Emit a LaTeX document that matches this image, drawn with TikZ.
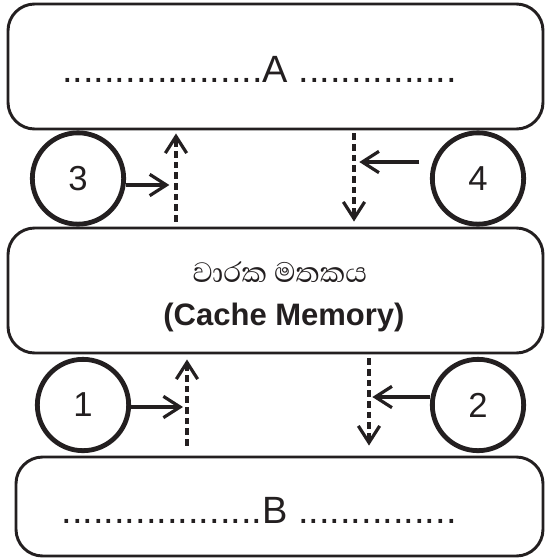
\documentclass[tikz,border=0pt]{standalone}
\usepackage{fontspec}
\setmainfont{Liberation Sans}
\newfontfamily\sinhalafont[Script=Sinhala]{Abhaya Libre}
\usetikzlibrary{arrows.meta}
\definecolor{ink}{HTML}{231F20}
\begin{document}
\begin{tikzpicture}[x=0.75pt,y=-0.75pt,ink,
  box node/.style={rectangle,draw,rounded corners=20pt,line width=2.2pt,inner sep=0pt},
  num node/.style={circle,draw,line width=3.6pt,minimum size=68.5pt,inner sep=0pt,font=\fontsize{26}{30}\selectfont},
  big text/.style={anchor=base,font=\fontsize{28.5}{34}\selectfont},
  flow/.style={line width=2.4pt,-{Straight Barb[length=12.5pt,width=16pt]}},
  dash flow/.style={flow,dash pattern=on 5pt off 3pt}]

  \useasboundingbox (0,0) rectangle (544,558);

  \node[box node,minimum width=401.25pt,minimum height=93.75pt] (A) at (275.5,66.5) {};
  \node[box node,minimum width=401.25pt,minimum height=93.75pt] (cache) at (275.5,290.5) {};
  \node[box node,minimum width=395.25pt,minimum height=74.25pt] (B) at (279.5,506.5) {};

  \node[big text] (Atext) at (259.5,82) {...................A ...............};
  \node[big text] (Btext) at (259,523) {...................B ...............};
  \node[font=\sinhalafont\fontsize{27}{30}\selectfont] (sinhala) at (280,272) {වාරක මතකය};
  \node[anchor=base,font=\fontsize{23.25}{28}\selectfont\bfseries] (english) at (284,325) {(Cache Memory)};

  \node[num node] (c3) at (78,178.5) {3};
  \node[num node] (c4) at (478,178.5) {4};
  \node[num node] (c1) at (83,405) {1};
  \node[num node] (c2) at (478,405) {2};

  \coordinate (x3) at (176,185);
  \coordinate (x4) at (354,162);
  \coordinate (x1) at (187,407);
  \coordinate (x2) at (369,397);

  \draw[flow,shorten >=5pt] (c3.east |- x3) -- (x3);
  \draw[flow,shorten <=8pt,shorten >=4pt] (c4.west |- x4) -- (x4);
  \draw[flow,shorten >=3pt] (c1.east |- x1) -- (x1);
  \draw[flow,shorten >=2.5pt] (c2.west |- x2) -- (x2);

  \draw[dash flow,shorten <=3.75pt,shorten >=2.25pt] (cache.north -| x3) -- (A.south -| x3);
  \draw[dash flow,shorten <=2.25pt,shorten >=3.75pt] (A.south -| x4) -- (cache.north -| x4);
  \draw[dash flow,shorten <=7.5pt,shorten >=3.75pt] (B.north -| x1) -- (cache.south -| x1);
  \draw[dash flow,shorten <=3pt,shorten >=7.5pt] (cache.south -| x2) -- (B.north -| x2);
\end{tikzpicture}
\end{document}
